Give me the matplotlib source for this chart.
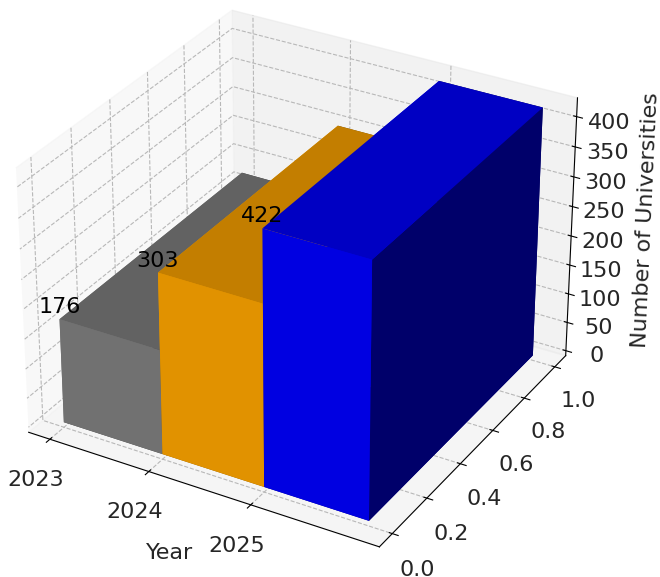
import matplotlib
matplotlib.use("Agg")
import numpy as np
import matplotlib.pyplot as plt

years = ["2023", "2024", "2025"]
universities = [176, 303, 422]
bar_colors = ["gray", "orange", "blue"]
text_color = "#262626"

fig = plt.figure(figsize=(6.6, 5.77), dpi=100)
ax = fig.add_axes([-0.095, -0.016, 1.08, 1.082], projection="3d")

xpos = np.arange(len(years))
ax.bar3d(xpos, np.zeros(3), np.zeros(3), 1, 1, universities, color=bar_colors, shade=True)

for x, v in zip(xpos, universities):
    ax.text(x, 0, v + 3, str(v), fontsize=16, ha="center", va="bottom", color="black")

ax.set_xticks(xpos)
ax.set_xticklabels(years, fontsize=16)
ax.set_zticks(range(0, 401, 50))
ax.tick_params(labelsize=16, labelcolor=text_color)
ax.tick_params(axis="x", pad=8)
ax.tick_params(axis="y", pad=8)
ax.tick_params(axis="z", pad=6)
ax.set_xlabel("Year", fontsize=16, labelpad=12, color=text_color)
ax.set_zlabel("Number of Universities", fontsize=16, labelpad=12, color=text_color)

for axis in (ax.xaxis, ax.yaxis, ax.zaxis):
    axis._axinfo["grid"].update(linestyle="--", color="#b8b8b8", linewidth=0.8)
    axis._axinfo["axisline"].update(color=text_color, linewidth=1.2)
    axis._axinfo["tick"].update(color=text_color)

fig.savefig("out.png", dpi=100)
